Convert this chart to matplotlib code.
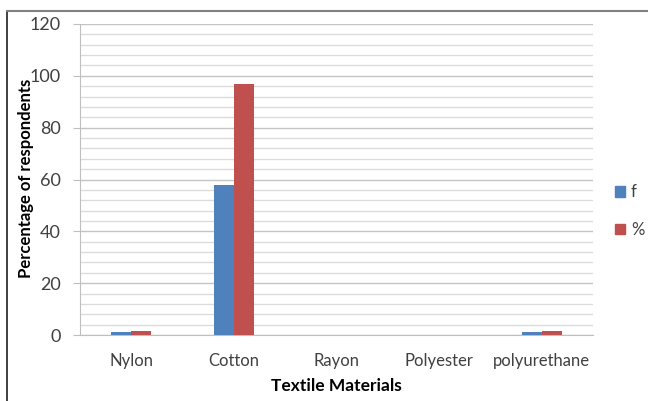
import numpy as np
import matplotlib.pyplot as plt
from matplotlib.ticker import MultipleLocator
from matplotlib.patches import Patch
from matplotlib.lines import Line2D

plt.rcParams['font.family'] = ['Lato', 'DejaVu Sans']

materials = ['Nylon', 'Cotton', 'Rayon', 'Polyester', 'polyurethane']
freq = [1, 58, 0, 0, 1]
pct = [1.7, 96.7, 0, 0, 1.7]

blue = '#4F81BD'
red = '#C0504D'

fig = plt.figure(figsize=(6.48, 4.01), dpi=100)
ax = fig.add_axes([80/648, 1-335/401, (593-80)/648, (335-24)/401])

x = np.arange(len(materials))
w = 0.195
ax.bar(x - w/2, freq, w, color=blue, zorder=3)
ax.bar(x + w/2, pct, w, color=red, zorder=3)

ax.set_xlim(-0.5, len(materials) - 0.5)
ax.set_ylim(0, 120)
ax.yaxis.set_major_locator(MultipleLocator(20))
ax.yaxis.set_minor_locator(MultipleLocator(4))
ax.grid(axis='y', which='major', color='#c4c4c4', lw=1.0, zorder=0)
ax.grid(axis='y', which='minor', color='#dcdcdc', lw=1.0, zorder=0)
ax.tick_params(axis='y', which='major', length=5, color='#bfbfbf', labelsize=13,
               labelcolor='#404040', pad=9)
ax.tick_params(axis='y', which='minor', length=0)
ax.tick_params(axis='x', length=0, labelsize=12, labelcolor='#404040', pad=13)
ax.set_xticks(x)
ax.set_xticklabels(materials)

for s in ['top', 'right']:
    ax.spines[s].set_visible(False)
ax.spines['left'].set_color('#bfbfbf')
ax.spines['bottom'].set_color('#bfbfbf')

ax.set_xlabel('Textile Materials', fontsize=12.5, fontweight='bold', va='center')
ax.set_ylabel('Percentage of respondents', fontsize=12, fontweight='bold', va='center')
ax.xaxis.set_label_coords(0.5, (335-386)/311)
ax.yaxis.set_label_coords((26-80)/513, (335-178)/311)

handles = [Patch(color=blue, label='f'), Patch(color=red, label='%')]
fig.legend(handles=handles, loc='center left', bbox_to_anchor=(615/648, 1-211/401),
           frameon=False, handlelength=0.6, handleheight=0.6, handletextpad=0.35,
           labelspacing=1.3, fontsize=12, labelcolor='#404040',
           borderpad=0, borderaxespad=0)

# outer chart border (left and top edges)
fig.add_artist(Line2D([7/648, 7/648], [0, 1-11/401], color='#202020', lw=1.2))
fig.add_artist(Line2D([7/648, 1], [1-11/401, 1-11/401], color='#808080', lw=1.5))

fig.savefig('out.png', dpi=100)
